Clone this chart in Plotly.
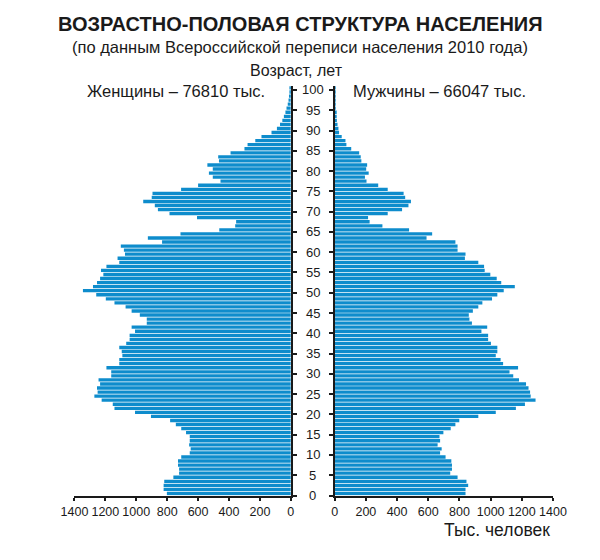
import plotly.graph_objects as go

ages = list(range(0, 101))

women = [802, 823, 823, 819, 760, 723, 723, 730, 730, 709,
         654, 648, 658, 654, 654, 678, 709, 744, 781, 905,
         1008, 1141, 1152, 1224, 1271, 1250, 1254, 1234, 1244, 1162,
         1162, 1193, 1110, 1110, 1090, 1094, 1110, 1065, 1043, 1043,
         1008, 1030, 932, 932, 977, 1030, 1069, 1141, 1197, 1259,
         1345, 1280, 1254, 1234, 1213, 1228, 1193, 1110, 1121, 1073,
         1080, 1100, 833, 925, 714, 463, 360, 354, 607, 785,
         860, 880, 955, 900, 895, 710, 600, 455, 505, 530,
         505, 540, 465, 470, 390, 300, 280, 230, 190, 125,
         90, 70, 55, 45, 35, 28, 20, 15, 12, 8, 8]

men = [839, 839, 856, 845, 788, 741, 752, 752, 748, 711,
       676, 686, 660, 676, 672, 697, 744, 774, 799, 921,
       1033, 1162, 1220, 1288, 1257, 1253, 1243, 1227, 1182, 1145,
       1121, 1176, 1080, 1064, 1033, 1043, 1043, 1002, 984, 984,
       941, 978, 880, 864, 860, 886, 921, 947, 1009, 1043,
       1084, 1155, 1068, 1039, 998, 962, 958, 921, 835, 839,
       788, 788, 774, 589, 625, 477, 306, 224, 214, 340,
       432, 473, 489, 452, 442, 340, 279, 204, 194, 218,
       202, 208, 171, 167, 157, 106, 75, 69, 45, 28,
       24, 18, 14, 10, 8, 6, 4, 3, 2, 2, 2]

x_ticks = [0, 200, 400, 600, 800, 1000, 1200, 1400]
age_ticks = list(range(0, 101, 5))

title = "ВОЗРАСТНО-ПОЛОВАЯ СТРУКТУРА НАСЕЛЕНИЯ"
subtitle = "(по данным Всероссийской переписи населения 2010 года)"
age_title = "Возраст, лет"
women_label = "Женщины – 76810 тыс."
men_label = "Мужчины – 66047 тыс."
unit_label = "Тыс. человек"

W, H = 600, 560
OFF = 8  # page body margin
BAR = "#0e8ccc"
INK = "#1a1a1a"
FONT = "Liberation Sans"


def px(x):
    return (x - OFF) / W


def py(y):
    return 1 - (y - OFF) / H


y_pos = [a + 0.5 for a in ages]

fig = go.Figure()
fig.add_trace(go.Bar(x=women, y=y_pos, orientation="h", xaxis="x", yaxis="y",
                     marker=dict(color=BAR, line=dict(width=0)), width=0.82,
                     name="Женщины", showlegend=False))
fig.add_trace(go.Bar(x=men, y=y_pos, orientation="h", xaxis="x2", yaxis="y2",
                     marker=dict(color=BAR, line=dict(width=0)), width=0.82,
                     name="Мужчины", showlegend=False))

ydom = [py(495.5), py(85.9)]
common_x = dict(showline=True, linewidth=2, linecolor=INK, ticks="outside", ticklen=3,
                tickwidth=2, tickcolor=INK, showgrid=False, zeroline=False,
                tickvals=x_ticks, ticktext=[str(v) for v in x_ticks],
                tickfont=dict(size=12.5, color=INK, family=FONT))
common_y = dict(domain=ydom, range=[0, 101], showline=True, linewidth=2, linecolor=INK,
                ticks="outside", ticklen=4, tickwidth=2, tickcolor=INK,
                tickvals=age_ticks, showticklabels=False, showgrid=False, zeroline=False)

fig.update_layout(
    width=W, height=H,
    margin=dict(l=0, r=0, t=0, b=0),
    paper_bgcolor="white", plot_bgcolor="white",
    font=dict(family=FONT, color=INK),
    bargap=0.18,
    xaxis=dict(domain=[px(63), px(290)], range=[1400, 0], anchor="y", **common_x),
    xaxis2=dict(domain=[px(336), px(565)], range=[0, 1400], anchor="y2", **common_x),
    yaxis=dict(anchor="x", side="right", **common_y),
    yaxis2=dict(anchor="x2", side="left", **common_y),
)

annotations = []
for a in age_ticks:
    annotations.append(dict(x=px(313), xref="paper", y=a, yref="y", text=str(a),
                            showarrow=False, xanchor="center", yanchor="middle",
                            font=dict(size=13, color=INK, family=FONT)))

annotations += [
    dict(x=px(300), y=py(24), xref="paper", yref="paper", text="<b>" + title + "</b>",
         showarrow=False, xanchor="center", yanchor="middle", font=dict(size=20, color=INK)),
    dict(x=px(300), y=py(47.5), xref="paper", yref="paper", text=subtitle,
         showarrow=False, xanchor="center", yanchor="middle", font=dict(size=16.5, color=INK)),
    dict(x=px(296), y=py(70), xref="paper", yref="paper", text=age_title,
         showarrow=False, xanchor="center", yanchor="middle", font=dict(size=16, color=INK)),
    dict(x=px(265), y=py(91), xref="paper", yref="paper", text=women_label,
         showarrow=False, xanchor="right", yanchor="middle", font=dict(size=16.5, color=INK)),
    dict(x=px(353), y=py(91), xref="paper", yref="paper", text=men_label,
         showarrow=False, xanchor="left", yanchor="middle", font=dict(size=16.5, color=INK)),
    dict(x=px(564), y=py(530), xref="paper", yref="paper", text=unit_label,
         showarrow=False, xanchor="right", yanchor="middle", font=dict(size=17.5, color=INK)),
]
fig.update_layout(annotations=annotations)

fig.write_html("out.html")
